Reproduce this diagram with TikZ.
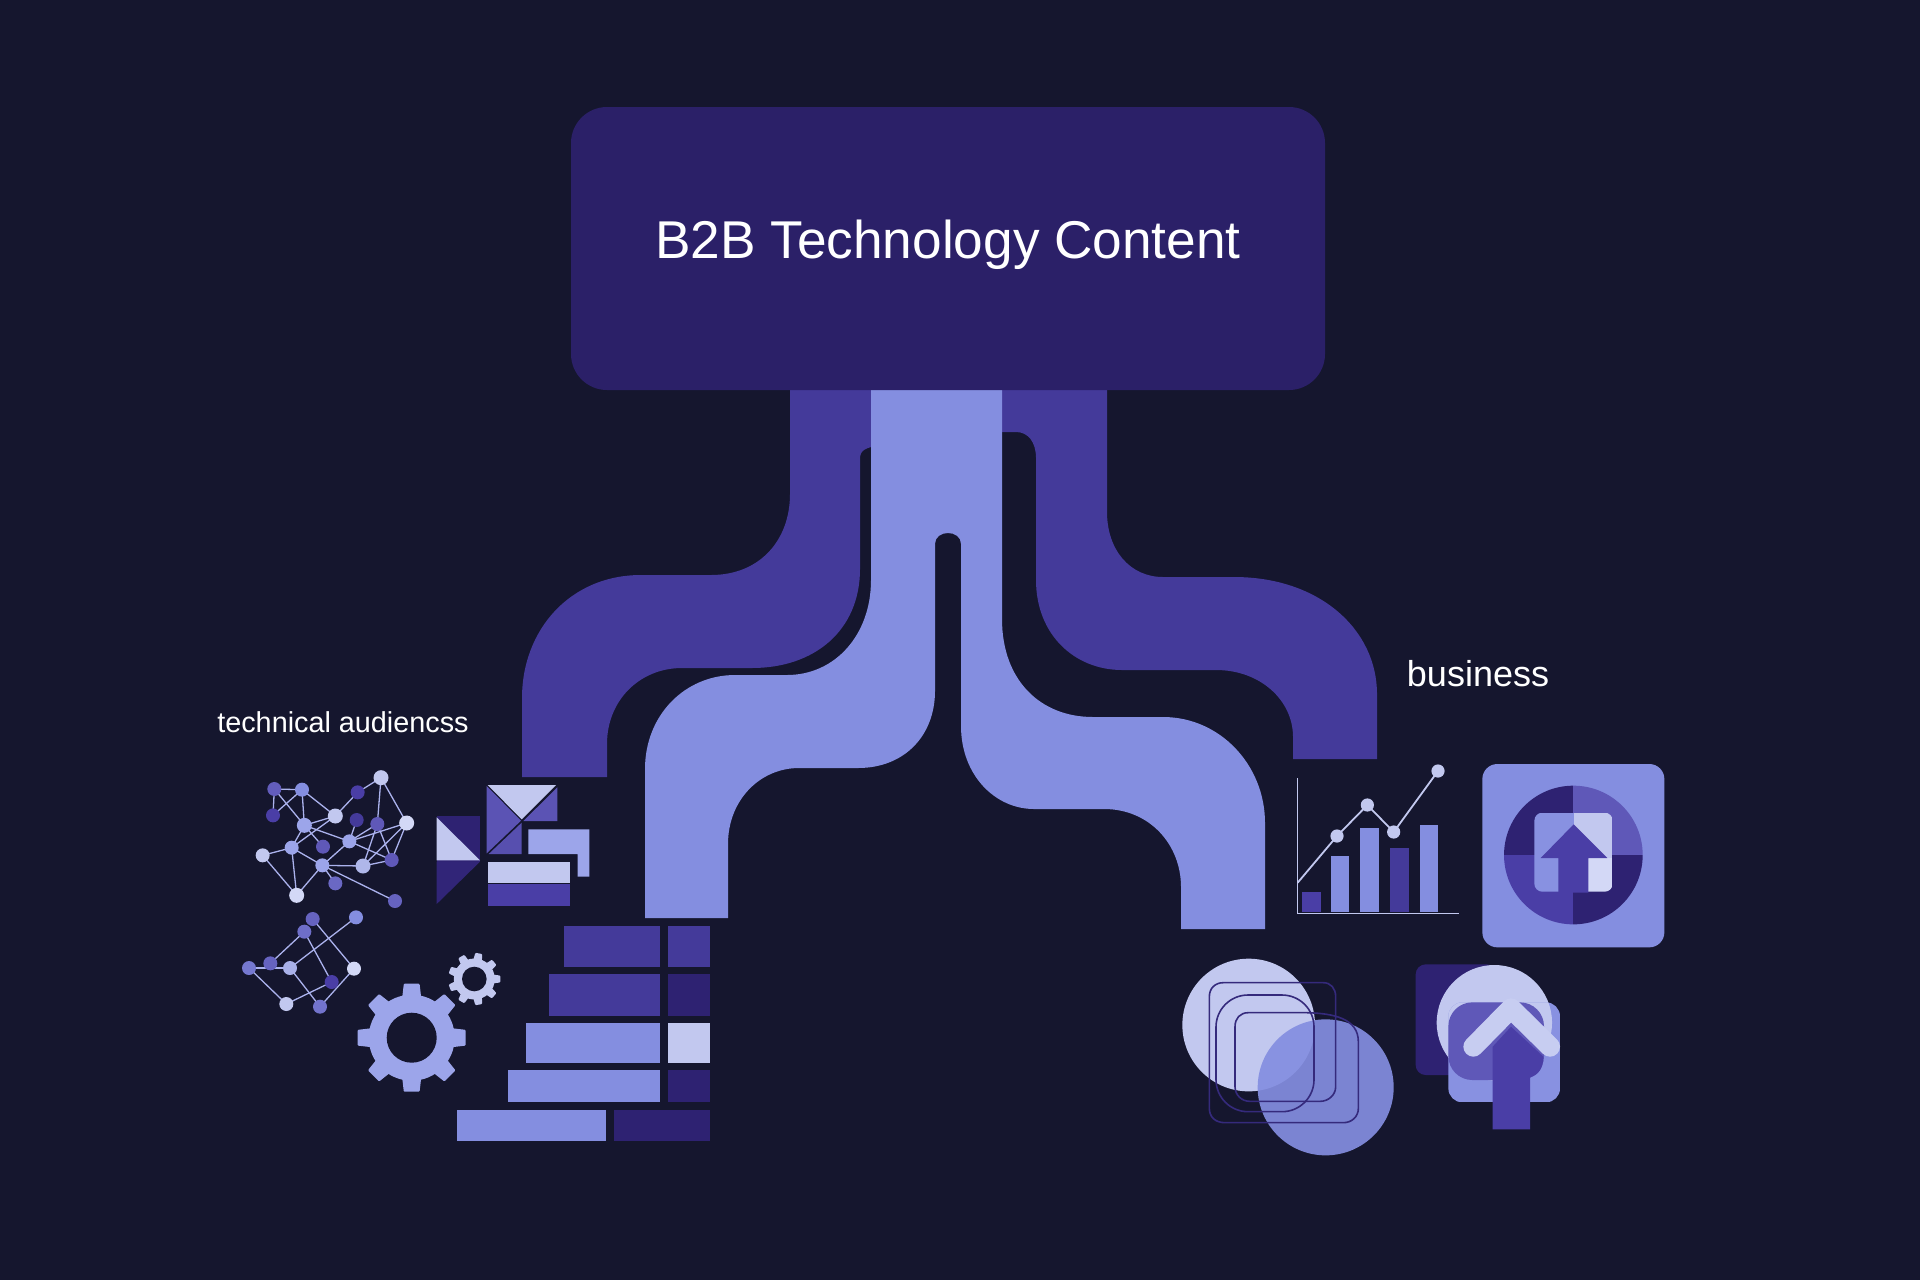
\documentclass[tikz,border=0pt]{standalone}
\usepackage{fontspec}
\setmainfont{Liberation Sans}
\pgfdeclarelayer{backdrop}
\pgfdeclarelayer{netlinks}
\pgfsetlayers{backdrop,netlinks,main}
\definecolor{night}{HTML}{15162E}
\definecolor{indigoA}{HTML}{2B2068}
\definecolor{indigoB}{HTML}{2E2272}
\definecolor{violetA}{HTML}{443A9A}
\definecolor{violetB}{HTML}{4A3EA6}
\definecolor{violetC}{HTML}{5F58B8}
\definecolor{periA}{HTML}{848EE0}
\definecolor{periB}{HTML}{9CA5EA}
\definecolor{periC}{HTML}{C2C8EF}
\definecolor{periD}{HTML}{D3D8F6}
\definecolor{inkline}{HTML}{352A7C}
\newcommand{\drawcog}[8]{% cx, cy, root, tip, half width at root, half width at tip, teeth, colour
  \fill[#8] (#1,#2) circle (#3);
  \foreach \tooth in {1,...,#7}{
    \fill[#8,shift={(#1,#2)},rotate=\tooth*360/#7]
      (#3-3,-#5) -- (#4-1,-#6) -- (#4,-#6+1) -- (#4,#6-1) -- (#4-1,#6) -- (#3-3,#5) -- cycle;
  }
}
\tikzset{
  leftzone/.style={shift={(220,680)},x=0.16667pt,y=-0.16667pt},
  lowzone/.style={shift={(220,880)},x=0.16667pt,y=-0.16667pt},
  chartzone/.style={shift={(1270,740)},x=0.16667pt,y=-0.16667pt},
  badgezone/.style={shift={(1160,940)},x=0.16667pt,y=-0.16667pt},
  dot/.style={circle,inner sep=0pt,minimum size=#1,draw=none},
  dot/.default=7pt,
  link/.style={draw=periB!85!white,line width=0.65pt},
  frame/.style={draw=inkline,line width=0.8pt},
  label/.style={text=white,inner sep=0pt,anchor=center}
}
\begin{document}
\begin{tikzpicture}[x=0.5pt,y=-0.5pt]
\begin{pgfonlayer}{backdrop}
  \fill[night] (0,0) rectangle (1920,1280);
\end{pgfonlayer}
\useasboundingbox (0,0) rectangle (1920,1280);

% left outer branch
\fill[violetA] (790,380) -- (790,494)
  .. controls (790,540) and (760,575) .. (711,575) -- (641,575)
  .. controls (570,575) and (522,630) .. (522,698) -- (522,777) -- (607,777) -- (607,744)
  .. controls (607,700) and (640,668) .. (682,668) -- (752,668)
  .. controls (815,668) and (860,630) .. (860,569) -- (860,459)
  .. controls (860,450) and (865,448) .. (880,445) -- (880,380) -- cycle;
% right outer branch
\fill[violetA] (1107,380) -- (1107,512)
  .. controls (1107,550) and (1130,577) .. (1163,577) -- (1234,577)
  .. controls (1320,577) and (1377,630) .. (1377,694) -- (1377,759) -- (1293,759) -- (1293,737)
  .. controls (1293,700) and (1260,670) .. (1216,670) -- (1122,670)
  .. controls (1075,670) and (1036,635) .. (1036,580) -- (1036,458)
  .. controls (1036,442) and (1028,432) .. (1016,432) -- (990,432) -- (990,380) -- cycle;
% central branch splitting into two
\fill[periA] (871,385) -- (871,580)
  .. controls (871,635) and (835,675) .. (787,675) -- (735,675)
  .. controls (685,675) and (645,715) .. (645,769) -- (645,918) -- (728,918) -- (728,844)
  .. controls (728,800) and (760,768) .. (799,768) -- (858,768)
  .. controls (905,768) and (935,735) .. (935,691) -- (935,544)
  .. controls (935,537) and (941,533) .. (948,533)
  .. controls (955,533) and (961,537) .. (961,544) -- (961,726)
  .. controls (961,775) and (995,809) .. (1034,809) -- (1104,809)
  .. controls (1150,809) and (1181,845) .. (1181,887) -- (1181,929) -- (1265,929) -- (1265,823)
  .. controls (1265,765) and (1220,717) .. (1163,717) -- (1093,717)
  .. controls (1040,717) and (1002,680) .. (1002,619) -- (1002,385) -- cycle;

% title block
\fill[indigoA,rounded corners=18pt] (571,107) rectangle (1325,390);
\node[label,font=\fontsize{26.6pt}{30pt}\selectfont] (title) at (948,245) {B2B Technology Content};
\node[label,font=\fontsize{14.4pt}{17pt}\selectfont] (techlabel) at (343,722) {technical audiencss};
\node[label,font=\fontsize{18pt}{21pt}\selectfont] (bizlabel) at (1478,674) {business};

% upper network
\begin{scope}[leftzone]
  \node[dot,fill=violetC!90!periA] (a) at (163,327) {};
  \node[dot,fill=periA] (b) at (246,329) {};
  \node[dot,fill=violetB] (c) at (159,406) {};
  \node[dot,fill=violetB] (d) at (413,337) {};
  \node[dot=7.5pt,fill=periC] (e) at (483,293) {};
  \node[dot=7.5pt,fill=periC] (f) at (346,408) {};
  \node[dot=7.5pt,fill=periB] (g) at (253,436) {};
  \node[dot=7.5pt,fill=periD] (h) at (560,429) {};
  \node[dot,fill=violetC] (i) at (472,432) {};
  \node[dot,fill=violetA] (j) at (410,420) {};
  \node[dot,fill=periB] (k) at (388,484) {};
  \node[dot,fill=violetC] (l) at (309,500) {};
  \node[dot,fill=periB] (m) at (215,503) {};
  \node[dot,fill=periC] (n) at (128,526) {};
  \node[dot,fill=periB] (o) at (307,556) {};
  \node[dot=7.5pt,fill=periC!70!periA] (p) at (429,558) {};
  \node[dot,fill=violetC] (q) at (515,540) {};
  \node[dot,fill=violetC!70!periA] (r) at (346,610) {};
  \node[dot=7.5pt,fill=periD] (s) at (230,646) {};
  \node[dot,fill=violetC!80!periA] (t) at (525,663) {};
  \begin{pgfonlayer}{netlinks}
    \foreach \u/\v in {a/b,a/g,a/c,c/b,b/g,b/f,g/f,f/d,d/e,e/h,e/i,i/p,h/q,h/k,h/p,i/k,g/k,g/l,m/g,m/f,m/n,n/s,m/s,m/o,o/s,o/p,k/o,o/r,o/t,k/q,q/p,i/q,j/k}
      \path[link] (\u.center) -- (\v.center);
  \end{pgfonlayer}
\end{scope}

% lower network
\begin{scope}[lowzone]
  \node[dot,fill=violetC!80!periA] (A) at (278,117) {};
  \node[dot,fill=periA] (B) at (408,112) {};
  \node[dot,fill=violetC!60!periA] (C) at (253,155) {};
  \node[dot,fill=violetC!80!periA] (D) at (151,250) {};
  \node[dot,fill=violetC!40!periA] (E) at (87,264) {};
  \node[dot,fill=periC!60!periA] (F) at (210,264) {};
  \node[dot,fill=periD] (G) at (402,266) {};
  \node[dot,fill=violetB] (H) at (335,306) {};
  \node[dot,fill=periC] (I) at (199,372) {};
  \node[dot,fill=violetC!50!periA] (J) at (300,380) {};
  \begin{pgfonlayer}{netlinks}
    \foreach \u/\v in {A/G,B/F,C/D,C/H,E/F,E/I,F/J,I/H,J/G}
      \path[link] (\u.center) -- (\v.center);
  \end{pgfonlayer}
\end{scope}

% gears
\drawcog{411.7}{1037.7}{43}{54}{9.5}{8}{8}{periB}
\fill[night] (411.7,1037.7) circle (25);
\drawcog{474.3}{979}{20.5}{26}{4.5}{3.6}{9}{periC}
\fill[night] (474.3,979) circle (12.3);

% folded tile cluster
\begin{scope}[leftzone]
  \fill[indigoB] (650,407) rectangle (780,545);
  \fill[periC] (650,412) -- (780,541) -- (650,541) -- cycle;
  \fill[indigoB!85!violetA] (650,545) -- (780,545) -- (650,672) -- cycle;
  \fill[violetC!85!violetA] (800,318) -- (903,422) -- (800,520) -- cycle;
  \fill[periC] (803,315) -- (1008,315) -- (905,418) -- cycle;
  \fill[violetC!85!violetA] (1012,322) -- (1012,423) -- (910,423) -- cycle;
  \fill[violetC!70!violetA] (905,428) -- (905,522) -- (806,522) -- cycle;
  \fill[periB] (925,448) -- (1108,448) -- (1108,590) -- (1073,590) -- (1073,522) -- (925,522) -- cycle;
  \fill[periC] (804,547) rectangle (1050,610);
  \fill[violetB] (804,613) rectangle (1050,677);
\end{scope}

% staircase bars
\begin{scope}[lowzone]
  \fill[violetA] (1032,137) rectangle (1320,262);
  \fill[violetA] (1345,137) rectangle (1470,262);
  \fill[violetA] (988,283) rectangle (1320,408);
  \fill[indigoB] (1345,283) rectangle (1470,408);
  \fill[periA] (917,428) rectangle (1320,549);
  \fill[periC] (1345,428) rectangle (1470,549);
  \fill[periA] (865,571) rectangle (1320,665);
  \fill[indigoB] (1345,571) rectangle (1470,665);
  \fill[periA] (710,689) rectangle (1157,783);
  \fill[indigoB] (1182,689) rectangle (1470,783);
\end{scope}

% bar chart with trend line
\begin{scope}[chartzone]
  \fill[violetB] (97,457) rectangle (154,516);
  \fill[periA] (182,347) rectangle (238,516);
  \fill[periA] (271,263) rectangle (326,516);
  \fill[violetA] (360,325) rectangle (416,516);
  \fill[periA] (449,254) rectangle (504,516);
  \draw[draw=periC,line width=0.8pt] (83,115) -- (83,520) -- (568,520);
  \node[dot=6.6pt,fill=periC] (p1) at (201,288) {};
  \node[dot=6.6pt,fill=periC] (p2) at (292,195) {};
  \node[dot=6.6pt,fill=periC] (p3) at (371,276) {};
  \node[dot=6.6pt,fill=periC] (p4) at (504,93) {};
  \coordinate (p0) at (83,428);
  \draw[draw=periC,line width=0.9pt] (p0) -- (p1.center) -- (p2.center) -- (p3.center) -- (p4.center);
\end{scope}

% upload badge
\begin{scope}[chartzone]
  \fill[periA,rounded corners=7.5pt] (637,72) rectangle (1183,622);
  \begin{scope}
    \clip (910,345) circle (208);
    \fill[indigoB] (690,130) rectangle (910,345);
    \fill[violetC] (910,130) rectangle (1130,345);
    \fill[violetB] (690,345) rectangle (910,560);
    \fill[indigoB] (910,345) rectangle (1130,560);
  \end{scope}
  \begin{scope}
    \clip[rounded corners=4pt] (793,218) rectangle (1028,455);
    \fill[periA!85!periB] (793,218) rectangle (911,455);
    \fill[periC] (911,218) rectangle (1028,354);
    \fill[periD] (911,354) rectangle (1028,455);
  \end{scope}
  \fill[violetB] (911,253) -- (1012,354) -- (955,354) -- (955,458) -- (865,458) -- (865,354) -- (812,354) -- cycle;
\end{scope}

% overlapping discs with outlines
\begin{scope}[badgezone]
  \fill[periC] (266,255) circle (199);
  \fill[periA,fill opacity=0.92] (497,442) circle (204);
  \draw[frame] (148,170) .. controls (148,145) and (165,128) .. (190,128) -- (490,128)
    .. controls (512,128) and (527,145) .. (527,170) -- (527,440)
    .. controls (527,465) and (505,484) .. (480,484) -- (270,484)
    .. controls (245,484) and (225,465) .. (225,440) -- (225,260)
    .. controls (225,235) and (240,218) .. (265,218) -- (440,218)
    .. controls (520,220) and (595,235) .. (595,305) -- (595,505)
    .. controls (595,530) and (575,548) .. (550,548) -- (195,548)
    .. controls (165,548) and (148,530) .. (148,505) -- cycle;
  \draw[frame,rounded corners=16pt] (168,165) rectangle (462,515);
\end{scope}

% arrow badge
\begin{scope}[badgezone]
  \fill[indigoB,rounded corners=5pt] (767,73) rectangle (1010,405);
  \fill[periC] (1003,248) circle (173);
  \begin{scope}
    \clip[rounded corners=7pt] (865,187) rectangle (1200,487);
    \fill[periA!85!periB] (865,187) rectangle (1200,487);
    \fill[periC] (1003,248) circle (173);
    \fill[violetC,rounded corners=12pt] (865,187) rectangle (1152,420);
  \end{scope}
  \fill[violetB] (1053,260) -- (1150,350) .. controls (1150,385) and (1135,405) .. (1110,412)
    -- (1110,568) -- (998,568) -- (998,320) -- cycle;
  \draw[periC!70!periD,line width=10pt,line cap=round,line join=round] (940,320) -- (1053,205) -- (1170,320);
\end{scope}
\end{tikzpicture}
\end{document}
